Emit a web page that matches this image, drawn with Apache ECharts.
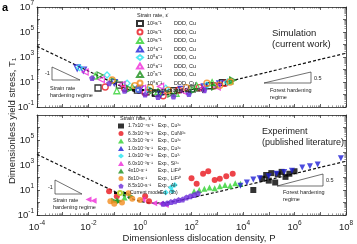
<!DOCTYPE html>
<html>
<head>
<meta charset="utf-8">
<script src="https://cdn.jsdelivr.net/npm/echarts@6/dist/echarts.min.js"></script>
<style>html,body{margin:0;padding:0;background:#fff}#main{width:357px;height:244px}</style>
</head>
<body>
<div id="main"></div>
<script>
// values as [log10 P, log10 T]
var modelLine = [[-4,3.85],[-3,2.86],[-2,1.87],[-1,0.9],[-0.5,0.45],[0,0.1],[0.5,-0.05],[1,0.0],[1.5,0.15],[2,0.38],[3,0.84],[4,1.32],[5,1.81],[6,2.31],[7,2.81],[8,3.3]];

// simulation (top panel)
var simRates = ['10¹s⁻¹','10²s⁻¹','10³s⁻¹','10⁴s⁻¹','10⁵s⁻¹','10⁶s⁻¹','10⁷s⁻¹','10⁸s⁻¹','2.5x10⁸s⁻¹'];
var simSources = ['DDD, Cu','DDD, Cu','DDD, Cu','DDD, Cu','DDD, Cu','DDD, Cu','DDD, Cu','DDD, Cu','MD, Al'];
var sim1 = [[-1.63,0.52],[-0.8,0.75],[-0.1,0.35],[0.6,0.1],[1.3,0.3],[2.0,0.45],[2.7,0.7],[3.2,0.95]];
var sim2 = [[-1.35,0.6],[-0.6,0.5],[0.2,0.15],[0.9,-0.1],[1.5,0.35],[2.3,0.55],[2.9,0.7],[3.3,0.9]];
var sim3 = [[-1.74,1.48],[-0.9,0.3],[-0.3,0.6],[0.7,0.25],[1.4,0.1],[2.2,0.7],[2.8,0.95],[3.5,1.1]];
var sim4 = [[-2.44,2.12],[-2.2,1.95],[-1.0,0.95],[0.0,0.45],[0.8,0.0],[1.6,0.4],[2.5,0.6],[3.1,0.85]];
var sim5 = [[-2.35,2.15],[-1.28,1.56],[-0.5,0.9],[0.3,0.4],[1.0,0.5],[1.9,0.2],[2.6,0.75],[3.4,1.0]];
var sim6 = [[-2.13,1.8],[-1.5,1.2],[-0.7,0.8],[0.1,0.5],[0.8,0.65],[1.7,0.25],[2.4,0.45],[3.0,0.6]];
var sim7 = [[-1.55,1.56],[-1.0,1.1],[-0.4,0.45],[0.5,0.3],[1.2,0.05],[2.1,0.35],[2.9,0.6],[3.6,1.15]];
var sim8 = [[-1.08,1.16],[-0.2,0.7],[0.4,0.55],[1.1,0.35],[1.8,0.55],[2.6,0.9],[3.1,0.75],[3.5,1.0]];
var sim9 = [[-1.86,1.32],[-1.2,0.9],[-0.6,0.3],[0.2,0.0],[0.7,-0.2],[1.3,-0.15],[1.9,0.05],[2.5,0.35]];

// experiment (bottom panel)
var expRates = ['1.7x10⁻⁴s⁻¹','6.3x10⁻³s⁻¹','6.3x10⁻³s⁻¹','1.0x10⁻³s⁻¹','1.0x10⁻³s⁻¹','6.0x10⁻³s⁻¹','4x10⁵s⁻¹','8x10⁵s⁻¹','8.5x10⁵s⁻¹'];
var expSources = ['Exp., Cu³⁶','Exp., CuNi³⁶','Exp., Cu³⁶','Exp., Cu³⁶','Exp., Cu³⁷','Exp., Si³⁸','Exp., LiF¹⁰','Exp., LiF¹⁰','Exp., Al⁸'];
var exp1 = [[4.4,1.0],[4.75,1.9],[4.9,2.2],[5.0,1.75],[5.1,2.35],[5.25,1.6],[5.35,2.25],[5.5,2.45],[5.65,2.05],[5.8,2.3],[6.0,2.5]];
var exp2 = [[-1.2,0.9],[-0.9,0.5],[0.2,0.5],[0.35,0.1],[2.0,1.95],[2.2,1.5],[2.45,2.3],[2.65,2.5],[2.9,1.8],[3.1,1.9],[3.35,2.1],[3.6,2.3]];
var exp3 = [[-0.9,0.2],[-0.6,0.4],[2.1,0.9],[2.3,1.0],[2.5,1.1],[2.7,1.2],[2.9,1.15],[3.1,1.3],[3.3,1.4],[3.5,1.35],[3.7,1.55],[3.9,1.5]];
var exp4 = [[3.9,1.35],[4.15,1.6],[4.4,1.85],[4.65,1.95],[5.0,2.1],[5.3,2.3],[5.6,2.45],[5.9,2.55],[6.3,2.8],[6.6,2.9],[6.9,3.05],[7.8,3.55]];
var exp5 = [[1.0,0.8],[1.2,1.2],[1.35,1.4],[1.25,0.9]];
var exp6 = [[-2.0,0.25],[-1.8,0.15],[0.55,-0.05],[0.8,-0.1],[1.0,-0.2],[0.1,0.25]];
var exp7 = [[-1.0,0.15],[-0.8,0.1],[-0.55,0.7],[-0.35,0.5]];
var exp8 = [[-1.15,0.1],[-1.0,-0.1],[-0.7,0.0],[-0.45,0.75],[-0.3,0.3],[0.0,0.2]];
var exp9 = [[0.9,-0.1],[1.05,-0.05],[1.2,0.05],[1.35,0.1],[1.5,0.2],[1.65,0.25],[1.8,0.4],[1.95,0.5],[2.1,0.6],[2.25,0.75]];

// log minor tick multipliers
var minorSteps = [2, 3, 4, 5, 6, 7, 8, 9];

var colors = ['#000000','#e8141c','#2fd12f','#1f1fd6','#27e3ef','#ef2ad8','#1a8f1a','#f28c1e','#6a2bd8'];
var pentagon = 'path://M0,-10 L9.5,-3.1 L5.9,8.1 L-5.9,8.1 L-9.5,-3.1 Z';
var symbols = ['rect','circle','triangle','triangle','diamond','triangle','triangle','circle',pentagon];
var rotates = [0,0,0,180,0,90,-90,0,0];
var font = 'Liberation Sans, Arial, sans-serif';

function pow10(d) {
    return d.map(function (p) { return [Math.pow(10, p[0]), Math.pow(10, p[1])]; });
}

function sup(e) {
    return '{b|10}{s|' + e + '}';
}

function minorValues(lo, hi) {
    var out = [];
    for (var e = lo; e < hi; e++) {
        for (var j = 0; j < minorSteps.length; j++) out.push(minorSteps[j] * Math.pow(10, e));
    }
    return out;
}

var labelRich = {b: {fontSize: 9.5, fontFamily: font}, s: {fontSize: 6.5, fontFamily: font, padding: [0, 0, 7, 0]}};

function axis(kind, grid, pos, labels, showMax) {
    var isX = kind == 'x';
    return {
        type: 'log', logBase: 10, gridIndex: grid, position: pos,
        min: isX ? 1e-4 : 1e-1, max: isX ? 1e8 : 1e7, interval: 1,
        axisLine: {lineStyle: {color: '#222', width: 0.8}},
        axisTick: {inside: true, length: 3, lineStyle: {color: '#222', width: 0.7}},
        splitLine: {show: false},
        axisLabel: {
            show: labels, margin: isX ? 5 : 3, color: '#222', showMaxLabel: showMax,
            formatter: function (v) {
                var e = Math.round(Math.log10(v));
                var show = isX ? e % 2 == 0 : Math.abs(e % 2) == 1;
                return show ? sup(e) : '';
            },
            rich: labelRich
        }
    };
}

function minorAxis(kind, grid, pos) {
    var isX = kind == 'x';
    return {
        type: 'log', logBase: 10, gridIndex: grid, position: pos,
        min: isX ? 1e-4 : 1e-1, max: isX ? 1e8 : 1e7,
        axisLine: {show: false},
        axisTick: {inside: true, length: 1.6, lineStyle: {color: '#333', width: 0.5},
            customValues: isX ? minorValues(-4, 8) : minorValues(-1, 7)},
        axisLabel: {show: false},
        splitLine: {show: false}
    };
}

var simData = [sim1, sim2, sim3, sim4, sim5, sim6, sim7, sim8, sim9];
var expData = [exp1, exp2, exp3, exp4, exp5, exp6, exp7, exp8, exp9];
var labelMap = {};
var series = [];
var simNames = [], expNames = [];

for (var i = 0; i < 9; i++) {
    var n = 'S' + i;
    simNames.push(n);
    labelMap[n] = '{r|' + simRates[i] + '}{m|' + simSources[i] + '}';
    var filled = i == 8;
    series.push({
        name: n, type: 'scatter', xAxisIndex: 0, yAxisIndex: 0,
        symbol: symbols[i], symbolRotate: rotates[i], symbolSize: 6,
        itemStyle: {color: filled ? colors[i] : 'rgba(255,255,255,0)', borderColor: colors[i], borderWidth: filled ? 0 : 1.3},
        data: pow10(simData[i]), z: 3
    });
}
for (var i = 0; i < 9; i++) {
    var n = 'E' + i;
    expNames.push(n);
    labelMap[n] = '{r|' + expRates[i] + '}{m|' + expSources[i] + '}';
    series.push({
        name: n, type: 'scatter', xAxisIndex: 2, yAxisIndex: 2,
        symbol: symbols[i], symbolRotate: rotates[i], symbolSize: 6,
        itemStyle: {color: colors[i]},
        data: pow10(expData[i]), z: 3
    });
}
labelMap['SM'] = 'Current model Eq. (3b)';
labelMap['EM'] = '{r|Current model}{m|Eq. (3b)}';
series.push({
    name: 'SM', type: 'line', xAxisIndex: 0, yAxisIndex: 0, showSymbol: false, smooth: 0.3,
    lineStyle: {color: '#111', width: 1.2, type: [3, 2]}, data: pow10(modelLine), z: 2
});
series.push({
    name: 'EM', type: 'line', xAxisIndex: 2, yAxisIndex: 2, showSymbol: false, smooth: 0.3,
    lineStyle: {color: '#111', width: 1.2, type: [3, 2]}, data: pow10(modelLine), z: 2
});

function legend(names, left, top, width, col, size) {
    return {
        data: names, orient: 'vertical', left: left, top: top,
        itemWidth: width, itemHeight: 5, itemGap: 1.5, padding: 0,
        formatter: function (n) { return labelMap[n]; },
        textStyle: {
            fontSize: size, fontFamily: font, color: '#222', lineHeight: 6, padding: [0, 0, 0, -1],
            rich: {r: {fontSize: size, width: col, fontFamily: font}, m: {fontSize: size, fontFamily: font}}
        }
    };
}

function tri(pts) {
    return {type: 'polygon', shape: {points: pts}, style: {fill: 'none', stroke: '#333', lineWidth: 0.7}};
}
function txt(x, y, t, size, extra) {
    var s = {text: t, fontSize: size, fontFamily: font, fill: '#222', textVerticalAlign: 'middle'};
    for (var k in extra) s[k] = extra[k];
    return {type: 'text', x: x, y: y, style: s};
}

var option = {
    animation: false,
    backgroundColor: '#fff',
    grid: [
        {left: 37, right: 11, top: 7, height: 100},
        {left: 37, right: 11, top: 115, height: 100}
    ],
    xAxis: [
        axis('x', 0, 'bottom', false), axis('x', 0, 'top', false),
        axis('x', 1, 'bottom', true), axis('x', 1, 'top', false),
        minorAxis('x', 0, 'bottom'), minorAxis('x', 0, 'top'),
        minorAxis('x', 1, 'bottom'), minorAxis('x', 1, 'top')
    ],
    yAxis: [
        axis('y', 0, 'left', true, true), axis('y', 0, 'right', false, true),
        axis('y', 1, 'left', true, false), axis('y', 1, 'right', false, false),
        minorAxis('y', 0, 'left'), minorAxis('y', 0, 'right'),
        minorAxis('y', 1, 'left'), minorAxis('y', 1, 'right')
    ],
    legend: [
        legend(simNames, 136, 20, 6, 27, 5.5),
        legend(['SM'], 131, 87, 12, 27, 5.5),
        legend(expNames, 118, 123, 6, 30, 5),
        legend(['EM'], 113, 190, 12, 30, 5)
    ],
    series: series,
    graphic: [
        txt(2, 8, 'a', 11, {fontWeight: 'bold', fill: '#000'}),
        {type: 'text', x: 12, y: 121, rotation: Math.PI / 2,
            style: {text: 'Dimensionless yield stress, T₁', fontSize: 9.5, fontFamily: font, fill: '#222', align: 'center', verticalAlign: 'middle'}},
        {type: 'text', x: 199, y: 238,
            style: {text: 'Dimensionless dislocation density, P', fontSize: 9.5, fontFamily: font, fill: '#222', align: 'center', verticalAlign: 'middle'}},
        txt(137, 15, 'Strain rate, ε̇', 5.5),
        txt(120, 118, 'Strain rate, ε̇', 5.5),
        txt(272, 33, 'Simulation', 9.5),
        txt(272, 44, '(current work)', 9.5),
        txt(262, 132, 'Experiment', 9),
        txt(262, 143, '(published literature)', 9),
        tri([[52, 67], [52, 80], [80, 80]]),
        txt(45, 73, '-1', 5.5),
        txt(50, 88, 'Strain rate', 5.5),
        txt(50, 95, 'hardening regime', 5.5),
        tri([[264, 83], [311, 83], [311, 72]]),
        txt(314, 78, '0.5', 5.5),
        txt(270, 90, 'Forest hardening', 5.5),
        txt(270, 97, 'regime', 5.5),
        tri([[55, 180], [55, 194], [82, 194]]),
        txt(48, 187, '-1', 5.5),
        txt(53, 200, 'Strain rate', 5.5),
        txt(53, 207, 'hardening regime', 5.5),
        tri([[277, 186], [323, 186], [323, 174]]),
        txt(326, 180, '0.5', 5.5),
        txt(283, 192, 'Forest hardening', 5.5),
        txt(283, 199, 'regime', 5.5)
    ]
};

var myChart = echarts.init(document.getElementById('main'), null, {renderer: 'canvas'});
myChart.setOption(option);
</script>
</body>
</html>
